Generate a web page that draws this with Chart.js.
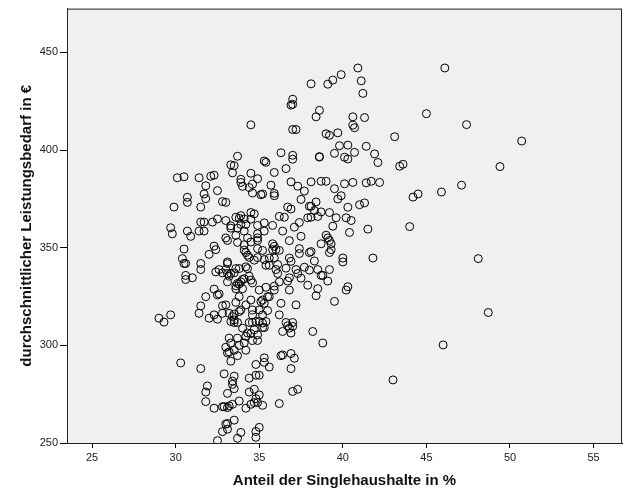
<!DOCTYPE html>
<html lang="de">
<head>
<meta charset="UTF-8">
<title>Singlehaushalte / Leistungsbedarf</title>
<script src="https://cdn.jsdelivr.net/npm/chart.js"></script>
<style>
  body { margin: 0; background: #fff; }
  #chart { display: block; }
</style>
</head>
<body>
<canvas id="chart" width="629" height="504"></canvas>
<script>
// Anteil der Singlehaushalte in % (x) und durchschnittlicher Leistungsbedarf in € (y)
const singleShare = [
  40.9, 46.1, 39.9, 39.4, 39.1, 38.1, 41.1, 41.2, 37.0, 36.9, 37.0, 38.6, 38.4, 41.3, 40.6, 40.6, 40.7, 34.5, 37.0, 37.2,
  45.0, 47.4, 50.7, 49.4, 47.1, 43.1, 39.0, 39.2, 39.7, 39.8, 40.3, 41.4, 41.9, 40.7, 40.1, 40.3, 39.5, 42.1, 43.4, 43.6,
  38.6, 38.6, 36.3, 37.0, 37.0, 36.6, 35.9, 35.3, 35.4, 33.7, 33.3, 33.5, 33.4, 34.5, 34.9, 33.9, 33.9, 34.0, 34.4, 34.6,
  34.6, 35.1, 35.2, 35.9, 35.9, 35.7, 36.9, 37.3, 37.7, 37.5, 38.1, 38.7, 39.0, 39.5, 39.9, 39.7, 40.1, 40.6, 41.4, 41.7,
  42.2, 41.0, 41.3, 40.3, 44.2, 44.5, 45.9, 44.0, 41.5, 40.2, 40.5, 39.6, 39.4, 40.4, 39.2, 39.0, 39.1, 39.2, 39.3, 39.2,
  39.3, 38.7, 40.0, 40.0, 41.8, 39.2, 39.1, 40.3, 40.2, 39.5, 38.7, 38.8, 38.5, 38.5, 38.4, 38.3, 38.0, 38.1, 38.0, 37.7,
  37.9, 38.2, 38.8, 37.5, 37.4, 37.4, 37.4, 37.1, 36.8, 38.4, 38.0, 38.1, 38.3, 38.7, 38.5, 37.9, 38.1, 36.7, 36.9, 36.5,
  36.2, 36.4, 35.8, 35.3, 35.3, 34.9, 34.9, 34.9, 34.9, 35.8, 35.9, 35.8, 36.0, 35.2, 34.9, 34.5, 34.3, 34.1, 34.2, 34.5,
  34.7, 34.5, 34.1, 33.9, 33.9, 33.6, 33.6, 33.7, 34.1, 34.2, 34.3, 34.9, 34.7, 35.3, 35.4, 35.6, 35.6, 35.9, 36.1, 36.0,
  36.1, 36.6, 36.8, 36.9, 37.2, 37.3, 37.5, 36.8, 36.7, 36.8, 36.2, 35.9, 35.9, 35.4, 35.6, 35.5, 35.1, 35.2, 35.3, 35.0,
  34.5, 34.6, 34.4, 34.3, 34.2, 33.8, 34.1, 33.9, 33.8, 33.7, 33.6, 34.0, 34.0, 33.6, 33.8, 33.6, 33.9, 33.8, 34.2, 34.5,
  33.5, 33.4, 33.5, 33.3, 33.5, 33.7, 33.2, 34.6, 35.0, 35.2, 35.5, 34.6, 34.4, 34.6, 34.8, 35.0, 35.2, 35.4, 35.2, 35.3,
  34.0, 34.3, 34.5, 34.7, 34.9, 34.9, 34.6, 34.2, 34.1, 33.2, 33.7, 33.3, 33.0, 33.2, 33.1, 33.8, 33.5, 34.2, 33.7, 33.3,
  34.8, 35.3, 35.3, 35.6, 36.3, 36.4, 36.9, 37.1, 36.9, 36.2, 36.3, 37.2, 36.6, 36.7, 37.0, 37.0, 36.8, 36.4, 36.9, 34.8,
  35.0, 34.4, 33.5, 33.4, 33.4, 33.5, 32.9, 34.7, 34.4, 37.0, 37.3, 33.1, 35.0, 34.8, 34.9, 34.7, 34.5, 35.2, 33.8, 33.4,
  33.2, 33.1, 32.9, 32.8, 32.3, 31.8, 34.2, 36.2, 33.5, 33.1, 33.0, 35.0, 32.8, 33.1, 33.9, 34.8, 34.8, 33.7, 32.5, 31.8,
  31.9, 31.5, 30.3, 29.0, 29.3, 29.7, 31.4, 31.5, 32.0, 31.8, 32.3, 32.5, 32.8, 32.8, 33.0, 32.5, 32.6, 32.3, 32.4, 32.6,
  32.8, 33.0, 33.1, 33.2, 33.1, 33.1, 33.1, 33.6, 33.3, 33.5, 31.5, 31.5, 31.0, 30.6, 30.6, 30.5, 30.6, 30.4, 30.5, 32.0,
  32.3, 32.4, 33.1, 33.0, 31.4, 31.7, 30.7, 30.9, 29.7, 29.8, 31.5, 31.7, 32.2, 32.5, 33.0, 33.3, 33.3, 29.9, 31.5, 31.7,
  31.8, 30.7, 30.7, 32.5, 32.8, 33.0, 30.1, 30.5, 31.4, 31.8, 32.1, 32.3, 33.7, 33.8, 34.1, 34.4, 46.0, 43.0, 48.1, 48.7,
  36.2
];
const benefitNeed = [
  442.0, 442.0, 438.6, 435.8, 433.7, 433.9, 435.4, 429.0, 426.0, 423.0, 423.4, 420.3, 417.0, 416.6, 417.0, 412.7, 411.4, 412.9, 410.5, 410.5,
  418.6, 413.0, 404.6, 391.5, 382.0, 406.8, 408.3, 407.5, 408.8, 402.2, 402.5, 401.9, 398.0, 398.8, 396.3, 395.4, 398.3, 393.6, 391.7, 392.7,
  396.4, 396.6, 398.6, 397.3, 395.3, 390.5, 388.5, 394.4, 393.7, 396.8, 392.4, 392.0, 388.3, 388.1, 385.3, 385.0, 383.4, 381.4, 380.8, 382.5,
  378.0, 377.1, 377.5, 377.8, 376.6, 382.0, 383.7, 381.5, 379.0, 374.7, 383.7, 384.0, 384.0, 380.2, 376.6, 374.9, 382.7, 383.4, 383.2, 384.0,
  383.4, 372.0, 372.9, 370.7, 375.9, 377.5, 378.5, 360.8, 359.5, 365.3, 363.9, 365.3, 361.0, 357.8, 368.0, 356.4, 355.0, 353.7, 352.0, 347.5,
  349.0, 352.0, 344.7, 342.7, 344.7, 338.8, 332.9, 330.0, 328.3, 322.5, 335.8, 335.8, 338.8, 329.0, 325.4, 343.2, 347.5, 348.0, 338.5, 340.0,
  330.8, 307.1, 301.2, 355.8, 349.5, 347.0, 362.9, 360.5, 353.6, 373.4, 371.2, 371.2, 369.0, 368.3, 366.0, 365.3, 365.6, 370.8, 369.8, 365.6,
  366.0, 358.5, 361.4, 362.7, 358.5, 361.4, 357.1, 355.0, 353.7, 352.0, 350.7, 349.0, 349.0, 348.6, 349.5, 352.9, 355.0, 358.5, 361.9, 364.6,
  367.3, 368.0, 364.7, 366.4, 361.9, 365.6, 356.3, 352.7, 351.5, 347.5, 346.1, 344.9, 343.6, 343.9, 341.0, 344.7, 341.0, 344.7, 341.4, 338.8,
  336.8, 339.5, 344.7, 343.0, 338.8, 336.8, 334.4, 334.6, 332.9, 328.3, 332.5, 330.3, 328.3, 329.7, 324.9, 324.9, 322.4, 323.2, 321.5, 328.3,
  333.4, 332.0, 335.4, 339.3, 340.2, 339.3, 334.1, 332.5, 331.4, 331.7, 330.5, 333.7, 329.0, 329.0, 324.9, 322.0, 318.1, 317.3, 320.7, 323.2,
  316.0, 314.7, 313.0, 312.2, 311.7, 311.7, 316.4, 318.1, 318.1, 315.6, 317.8, 315.6, 311.7, 311.7, 312.2, 312.2, 311.4, 312.2, 309.1, 309.1,
  308.8, 306.3, 306.0, 308.0, 305.4, 302.5, 302.5, 304.6, 301.2, 303.7, 303.7, 301.2, 299.0, 296.6, 296.1, 300.0, 297.5, 297.5, 294.7, 291.9,
  290.2, 293.6, 291.3, 288.9, 294.7, 295.1, 295.8, 293.4, 288.1, 315.6, 321.5, 320.7, 311.7, 310.0, 311.7, 309.7, 308.8, 307.1, 306.3, 284.7,
  284.7, 283.2, 284.2, 281.7, 280.0, 277.8, 285.4, 277.5, 276.1, 276.4, 277.5, 275.4, 274.6, 272.7, 270.7, 270.7, 269.8, 269.3, 271.5, 269.8,
  269.0, 268.1, 268.6, 268.6, 267.8, 271.2, 267.8, 270.2, 261.7, 260.0, 259.7, 258.0, 255.8, 257.1, 255.4, 255.9, 252.9, 252.4, 251.2, 276.1,
  279.2, 288.1, 291.0, 313.9, 311.9, 315.6, 316.4, 320.2, 313.9, 324.9, 315.6, 313.4, 316.4, 320.3, 320.7, 325.8, 326.3, 328.8, 337.6, 338.8,
  337.1, 338.8, 336.8, 335.4, 332.5, 342.7, 341.9, 339.3, 336.8, 337.1, 341.9, 338.8, 334.6, 335.8, 333.7, 341.9, 341.9, 344.4, 349.3, 346.6,
  350.8, 349.0, 353.7, 355.0, 358.5, 358.5, 358.5, 355.8, 360.2, 357.1, 363.1, 363.1, 363.1, 364.7, 363.9, 361.2, 360.0, 370.8, 370.8, 377.5,
  375.1, 375.8, 373.2, 379.2, 373.6, 373.2, 385.8, 386.3, 385.8, 381.7, 386.6, 387.1, 360.0, 365.0, 348.8, 345.0, 300.2, 282.3, 344.4, 316.8,
  348.6
];
const xTickValues = [25, 30, 35, 40, 45, 50, 55];
const yTickValues = [250, 300, 350, 400, 450];

const points = singleShare.map((x, i) => ({ x: x, y: benefitNeed[i] }));

// grauer Plotbereich mit Rahmen
const plotFrame = {
  id: 'plotFrame',
  beforeDatasetsDraw(chart) {
    const { ctx, chartArea: a } = chart;
    ctx.save();
    ctx.fillStyle = '#f0f0f0';
    ctx.fillRect(a.left, a.top, a.right - a.left, a.bottom - a.top);
    ctx.restore();
  },
  afterDraw(chart) {
    const { ctx, chartArea: a } = chart;
    ctx.save();
    ctx.strokeStyle = '#222';
    ctx.lineWidth = 1;
    ctx.strokeRect(a.left + 0.5, a.top + 0.5, a.right - a.left - 1, a.bottom - a.top);
    ctx.restore();
  }
};

new Chart(document.getElementById('chart'), {
  type: 'scatter',
  data: {
    datasets: [{
      data: points,
      pointRadius: 4,
      pointHoverRadius: 4,
      pointBorderWidth: 1,
      borderColor: '#000',
      backgroundColor: 'rgba(0,0,0,0)'
    }]
  },
  options: {
    responsive: false,
    animation: false,
    layout: { padding: { top: 6, right: 7, left: 0, bottom: 0 } },
    plugins: { legend: { display: false }, tooltip: { enabled: false } },
    scales: {
      x: {
        type: 'linear',
        min: 23.5,
        max: 56.7,
        afterBuildTicks: (scale) => { scale.ticks = xTickValues.map(v => ({ value: v })); },
        afterFit: (scale) => { scale.height = 61; },
        grid: { drawOnChartArea: false, drawTicks: true, tickLength: 5, color: '#000' },
        border: { display: true, color: '#000' },
        ticks: { color: '#222', font: { family: 'Arial, "Liberation Sans"', size: 11 }, padding: 3, maxRotation: 0 },
        title: {
          display: true,
          text: 'Anteil der Singlehaushalte in %',
          color: '#111',
          font: { family: 'Arial, "Liberation Sans"', size: 15, weight: 'bold' },
          padding: { top: 0, bottom: 14 }
        }
      },
      y: {
        type: 'linear',
        min: 250,
        max: 472.4,
        afterBuildTicks: (scale) => { scale.ticks = yTickValues.map(v => ({ value: v })); },
        afterFit: (scale) => { scale.width = 67; },
        grid: { drawOnChartArea: false, drawTicks: true, tickLength: 7, color: '#000' },
        border: { display: true, color: '#000' },
        ticks: { color: '#222', font: { family: 'Arial, "Liberation Sans"', size: 11 }, padding: 2 },
        title: {
          display: true,
          text: 'durchschnittlicher Leistungsbedarf in €',
          color: '#111',
          font: { family: 'Arial, "Liberation Sans"', size: 15, weight: 'bold' },
          padding: { top: 18, bottom: 0 }
        }
      }
    }
  },
  plugins: [plotFrame]
});
</script>
</body>
</html>
